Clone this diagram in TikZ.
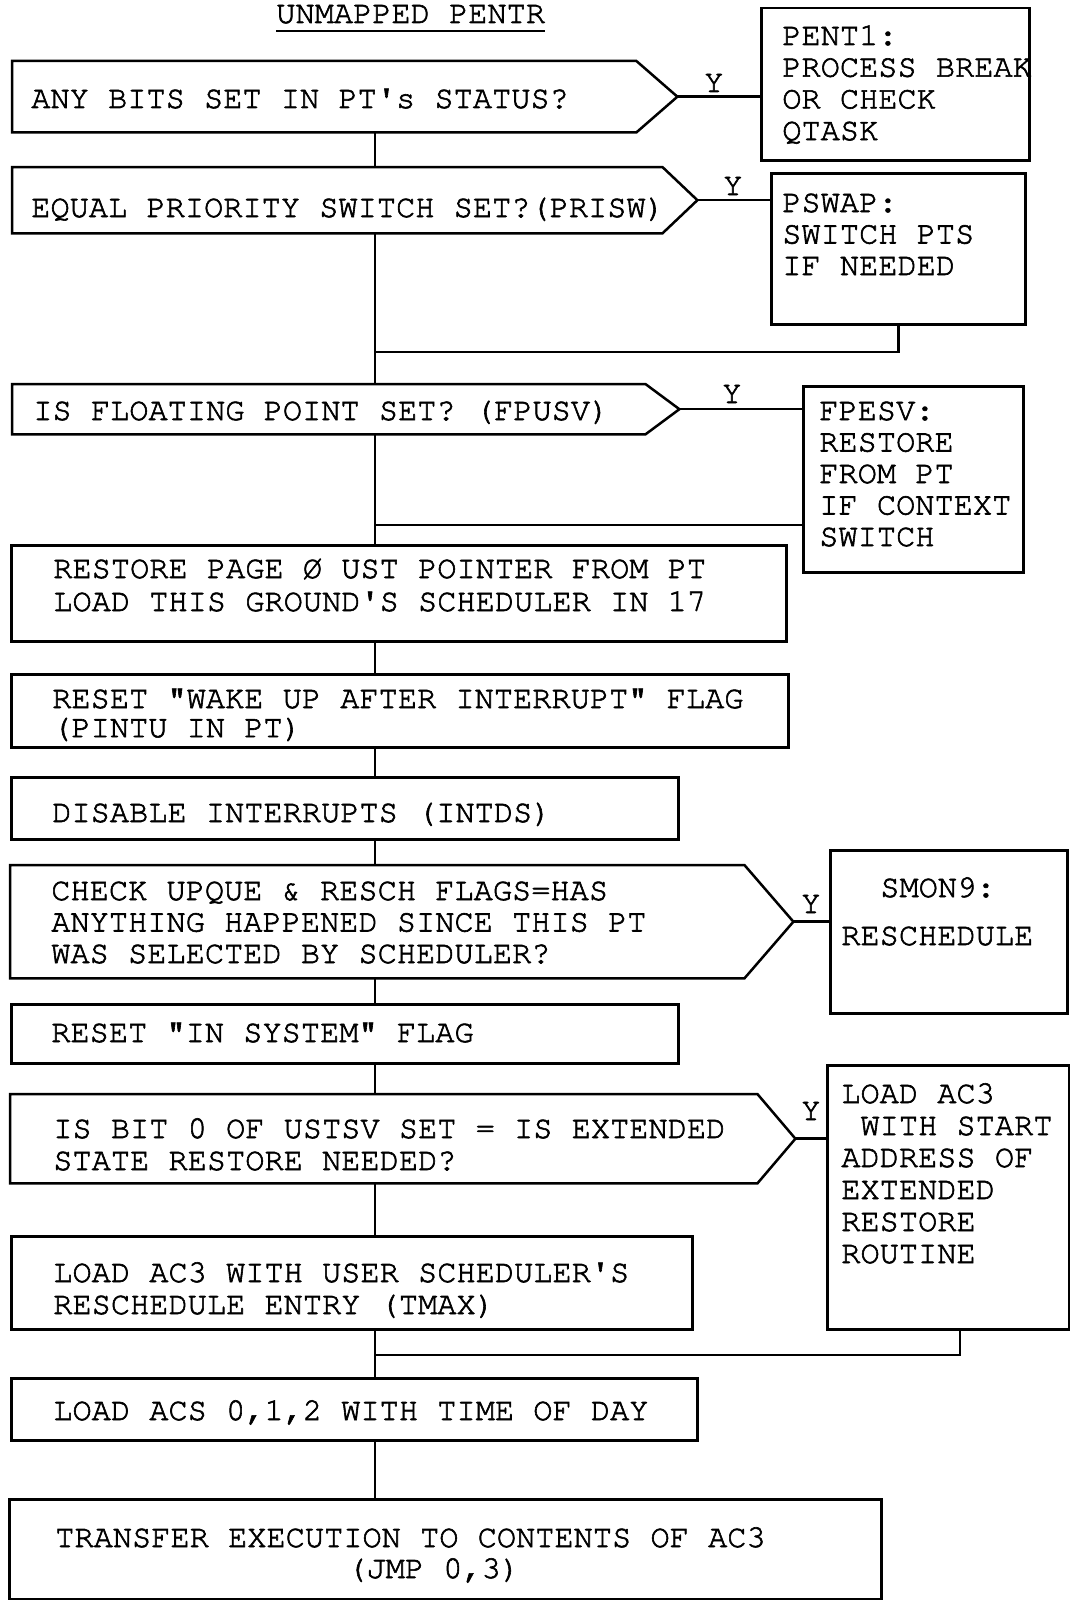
\documentclass[tikz,border=0pt]{standalone}
\usepackage[T1]{fontenc}
\usetikzlibrary{calc}
\newcommand\ml[2]{{\fontsize{32}{#1}\selectfont\begin{tabular}[t]{@{}l@{}}#2\end{tabular}}}
\newcommand\ap{\textquotesingle}
\tikzset{
  txt/.style={anchor=base west, inner sep=0pt, line width=0.6pt, font=\fontfamily{pcr}\fontsize{32}{31.5}\selectfont},
  box/.style={draw, line width=2.5pt, anchor=north west, inner sep=0pt},
  body/.style={anchor=north west, inner sep=0pt},
  ol/.style={line width=2.5pt},
  con/.style={line width=2.5pt}
}
\begin{document}
\begin{tikzpicture}[x=1pt,y=-1pt]
\special{pdf:literal direct 2 Tr}
\useasboundingbox (0,0) rectangle (1070,1600);
\coordinate (m) at (375,0);

% title
\node[txt] (title) at (276,23) {UNMAPPED PENTR};
\draw[con] ([yshift=-8pt]title.base west) -- ([yshift=-8pt]title.base east);

% decision 1
\node[body, minimum width=624pt, minimum height=71pt] (d1) at (12,61) {};
\coordinate (d1tip) at ($(d1.east)+(41,0)$);
\draw[ol] (d1.north west) -- (d1.north east) -- (d1tip) -- (d1.south east) -- (d1.south west) -- cycle;
\node[txt] (d1t) at (31,108) {ANY BITS SET IN PT\ap s STATUS?};
\node[txt] (y1) at (704,92) {Y};
\node[box, minimum width=268pt, minimum height=152pt] (pent1) at (760,7) {};
\node[txt] (pent1t) at (782,45) {\ml{31.7}{PENT1:\\PROCESS BREAK\\OR CHECK\\QTASK}};
\draw[con] (d1tip) -- (d1tip -| pent1.west);

% decision 2
\node[body, minimum width=650pt, minimum height=66pt] (d2) at (12,167) {};
\coordinate (d2tip) at ($(d2.east)+(35,0)$);
\draw[ol] (d2.north west) -- (d2.north east) -- (d2tip) -- (d2.south east) -- (d2.south west) -- cycle;
\node[txt] (d2t) at (31,217) {EQUAL PRIORITY SWITCH SET?(PRISW)};
\node[txt] (y2) at (723,195) {Y};
\node[box, minimum width=254pt, minimum height=151pt] (pswap) at (770,172) {};
\node[txt] (pswapt) at (782,212) {\ml{31.5}{PSWAP:\\SWITCH PTS\\IF NEEDED}};
\draw[con] (d2tip) -- (d2tip -| pswap.west);
\coordinate (j1) at (375,352);
\draw[con] (pswap.south) |- (j1);
\draw[con] (d1.south -| m) -- (d2.north -| m);

% decision 3
\node[body, minimum width=633pt, minimum height=50pt] (d3) at (12,384) {};
\coordinate (d3tip) at ($(d3.east)+(34,0)$);
\draw[ol] (d3.north west) -- (d3.north east) -- (d3tip) -- (d3.south east) -- (d3.south west) -- cycle;
\node[txt] (d3t) at (33,420) {IS FLOATING POINT SET? (FPUSV)};
\node[txt] (y3) at (722,403) {Y};
\node[box, minimum width=220pt, minimum height=186pt] (fpesv) at (802,385) {};
\node[txt] (fpesvt) at (819,420) {\ml{31.5}{FPESV:\\RESTORE\\FROM PT\\IF CONTEXT\\SWITCH}};
\draw[con] (d3tip) -- (d3tip -| fpesv.west);
\coordinate (j2) at (375,525);
\draw[con] (j2 -| fpesv.west) -- (j2);
\draw[con] (d2.south -| m) -- (d3.north -| m);

% box 1
\node[box, minimum width=775pt, minimum height=96pt] (b1) at (10,544) {};
\node[txt] (b1t) at (53,578) {\ml{33}{RESTORE PAGE \O{} UST POINTER FROM PT\\LOAD THIS GROUND\ap S SCHEDULER IN 17}};
\draw[con] (d3.south -| m) -- (b1.north -| m);

% box 2
\node[box, minimum width=777pt, minimum height=73pt] (b2) at (10,673) {};
\node[txt] (b2t) at (52,708) {\ml{29}{RESET "WAKE UP AFTER INTERRUPT" FLAG\\(PINTU IN PT)}};
\draw[con] (b1.south -| m) -- (b2.north -| m);

% box 3
\node[box, minimum width=667pt, minimum height=62pt] (b3) at (10,776) {};
\node[txt] (b3t) at (52,822) {DISABLE INTERRUPTS (INTDS)};
\draw[con] (b2.south -| m) -- (b3.north -| m);

% decision 4
\node[body, minimum width=734pt, minimum height=113pt] (d4) at (10,865) {};
\coordinate (d4tip) at ($(d4.east)+(49,0)$);
\draw[ol] (d4.north west) -- (d4.north east) -- (d4tip) -- (d4.south east) -- (d4.south west) -- cycle;
\node[txt] (d4t) at (51,900) {\ml{31.5}{CHECK UPQUE \& RESCH FLAGS=HAS\\ANYTHING HAPPENED SINCE THIS PT\\WAS SELECTED BY SCHEDULER?}};
\node[txt] (y4) at (801,913) {Y};
\node[box, minimum width=237pt, minimum height=163pt] (smon) at (829,849) {};
\node[txt] (smont) at (841,897) {\ml{48}{\hspace*{39pt}SMON9:\\RESCHEDULE}};
\draw[con] (d4tip) -- (d4tip -| smon.west);
\draw[con] (b3.south -| m) -- (d4.north -| m);

% box 4
\node[box, minimum width=667pt, minimum height=59pt] (b4) at (10,1003) {};
\node[txt] (b4t) at (51,1042) {RESET "IN SYSTEM" FLAG};
\draw[con] (d4.south -| m) -- (b4.north -| m);

% decision 5
\node[body, minimum width=747pt, minimum height=89pt] (d5) at (10,1094) {};
\coordinate (d5tip) at ($(d5.east)+(38,0)$);
\draw[ol] (d5.north west) -- (d5.north east) -- (d5tip) -- (d5.south east) -- (d5.south west) -- cycle;
\node[txt] (d5t) at (53,1138) {\ml{32}{IS BIT 0 OF USTSV SET = IS EXTENDED\\STATE RESTORE NEEDED?}};
\node[txt] (y5) at (801,1120) {Y};
\node[box, minimum width=242pt, minimum height=264pt] (ld) at (826,1064) {};
\node[txt] (ldt) at (841,1103) {\ml{32}{LOAD AC3\\\hspace*{19.2pt}WITH START\\ADDRESS OF\\EXTENDED\\RESTORE\\ROUTINE}};
\draw[con] (d5tip) -- (d5tip -| ld.west);
\draw[con] (b4.south -| m) -- (d5.north -| m);
\coordinate (r3) at (960,0);
\coordinate (j3) at (375,1355);
\draw[con] (r3 |- ld.south) |- (j3);

% box 5
\node[box, minimum width=681pt, minimum height=93pt] (b5) at (10,1235) {};
\node[txt] (b5t) at (53,1282) {\ml{32}{LOAD AC3 WITH USER SCHEDULER\ap S\\RESCHEDULE ENTRY (TMAX)}};
\draw[con] (d5.south -| m) -- (b5.north -| m);

% box 6
\node[box, minimum width=686pt, minimum height=62pt] (b6) at (10,1377) {};
\node[txt] (b6t) at (53,1420) {LOAD ACS 0,1,2 WITH TIME OF DAY};
\draw[con] (b5.south -| m) -- (b6.north -| m);

% box 7
\node[box, minimum width=872pt, minimum height=100pt] (b7) at (8,1498) {};
\node[txt] (b7t) at (55,1547) {\ml{31}{TRANSFER EXECUTION TO CONTENTS OF AC3\\\hspace*{292pt}(JMP 0,3)}};
\draw[con] (b6.south -| m) -- (b7.north -| m);
\end{tikzpicture}
\end{document}
